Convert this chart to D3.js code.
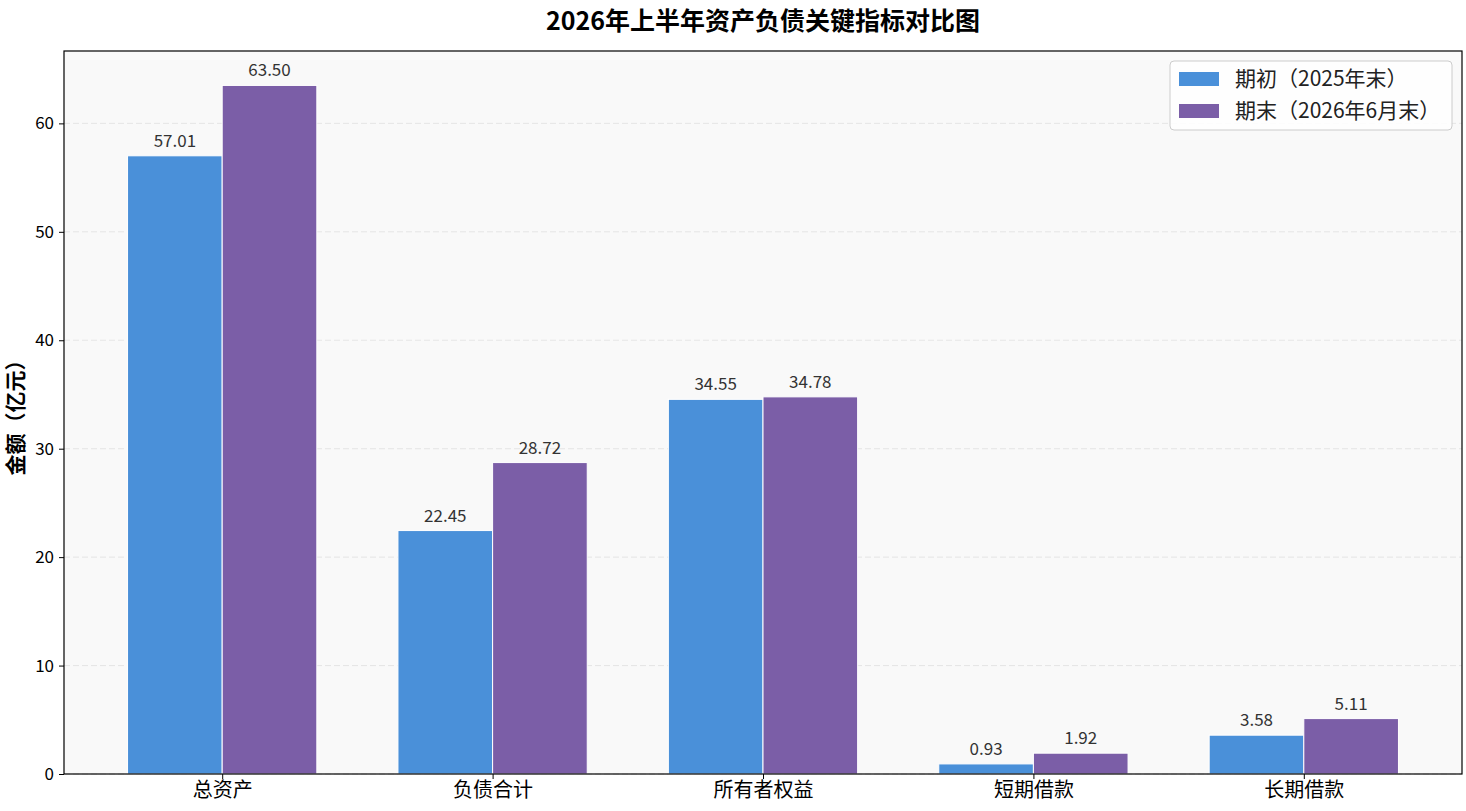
<!DOCTYPE html>
<html>
<head>
<meta charset="utf-8">
<script src="https://cdn.jsdelivr.net/npm/d3@7"></script>
<style>
  body { margin: 0; background: #fff; }
  svg text { font-family: "Noto Sans CJK SC", "Noto Sans", sans-serif; }
</style>
</head>
<body>
<svg id="chart" width="1466" height="811"></svg>
<script>
// data
const categories = ['总资产', '负债合计', '所有者权益', '短期借款', '长期借款'];
const seriesNames = ['期初（2025年末）', '期末（2026年6月末）'];
const beginValues = [57.01, 22.45, 34.55, 0.93, 3.58];
const endValues = [63.50, 28.72, 34.78, 1.92, 5.11];
const yTicks = [0, 10, 20, 30, 40, 50, 60];
const colours = ['#4a90d9', '#7b5ea7'];

const svg = d3.select('#chart');
const margin = { left: 64, right: 4, top: 51, bottom: 37 };
const width = +svg.attr('width');
const height = +svg.attr('height');
const innerW = width - margin.left - margin.right;
const innerH = height - margin.top - margin.bottom;

const g = svg.append('g').attr('transform', `translate(${margin.left},${margin.top})`);

// background
g.append('rect').attr('width', innerW).attr('height', innerH).attr('fill', '#f9f9f9');

// scales (matplotlib-like limits)
const barW = 0.35;
const x = d3.scaleLinear().domain([-0.585, categories.length - 1 + 0.585]).range([0, innerW]);
const y = d3.scaleLinear().domain([0, d3.max(endValues.concat(beginValues)) * 1.05]).range([innerH, 0]);

// grid
g.selectAll('.grid').data(yTicks).join('line')
  .attr('class', 'grid')
  .attr('x1', 0).attr('x2', innerW)
  .attr('y1', d => y(d)).attr('y2', d => y(d))
  .attr('stroke', '#d8d8d8').attr('stroke-dasharray', '6,3')
  .attr('stroke-opacity', 0.6);

// bars
const series = [beginValues, endValues];
series.forEach((vals, si) => {
  const offset = si === 0 ? -barW / 2 : barW / 2;
  const rows = vals.map((v, i) => ({ v, i }));
  g.selectAll(`.bar-${si}`).data(rows).join('rect')
    .attr('class', `bar-${si}`)
    .attr('x', d => x(d.i + offset - barW / 2))
    .attr('width', x(barW) - x(0))
    .attr('y', d => y(d.v))
    .attr('height', d => y(0) - y(d.v))
    .attr('fill', colours[si])
    .attr('stroke', '#fff').attr('stroke-width', 1);

  g.selectAll(`.lbl-${si}`).data(rows).join('text')
    .attr('class', `lbl-${si}`)
    .attr('x', d => x(d.i + offset))
    .attr('y', d => y(d.v) - 9)
    .attr('text-anchor', 'middle')
    .attr('font-size', 17)
    .attr('fill', '#333')
    .text(d => d.v.toFixed(2));
});

// axes
const yAxis = g.append('g').call(d3.axisLeft(y).tickValues(yTicks).tickSize(5).tickPadding(5));
const xAxis = g.append('g').attr('transform', `translate(0,${innerH})`)
  .call(d3.axisBottom(x).tickValues(d3.range(categories.length))
    .tickFormat(i => categories[i]).tickSize(5).tickPadding(4));
[xAxis, yAxis].forEach(a => {
  a.select('.domain').remove();
  a.selectAll('text').attr('font-size', 17).attr('fill', '#000');
  a.selectAll('line').attr('stroke', '#000');
});
xAxis.selectAll('text').attr('font-size', 20);

// frame
g.append('rect').attr('width', innerW).attr('height', innerH)
  .attr('fill', 'none').attr('stroke', '#000').attr('stroke-width', 1.2);

// title + y label
svg.append('text')
  .attr('x', margin.left + innerW / 2).attr('y', 30)
  .attr('text-anchor', 'middle').attr('font-size', 25).attr('font-weight', 'bold')
  .text('2026年上半年资产负债关键指标对比图');

svg.append('text')
  .attr('transform', `translate(15,${margin.top + innerH / 2}) rotate(-90)`)
  .attr('dy', '0.36em')
  .attr('text-anchor', 'middle').attr('font-size', 21).attr('font-weight', 'bold')
  .text('金额（亿元）');

// legend
const legend = svg.append('g').attr('transform', 'translate(1170,61)');
legend.append('rect').attr('width', 282).attr('height', 69).attr('rx', 4)
  .attr('fill', '#fff').attr('fill-opacity', 0.85).attr('stroke', '#ccc');
seriesNames.forEach((name, i) => {
  const row = legend.append('g').attr('transform', `translate(9,${11 + i * 32})`);
  row.append('rect').attr('width', 40).attr('height', 14).attr('fill', colours[i]);
  row.append('text').attr('x', 56).attr('y', 7).attr('dy', '0.35em')
    .attr('font-size', 21).attr('fill', '#222').text(name);
});
</script>
</body>
</html>
